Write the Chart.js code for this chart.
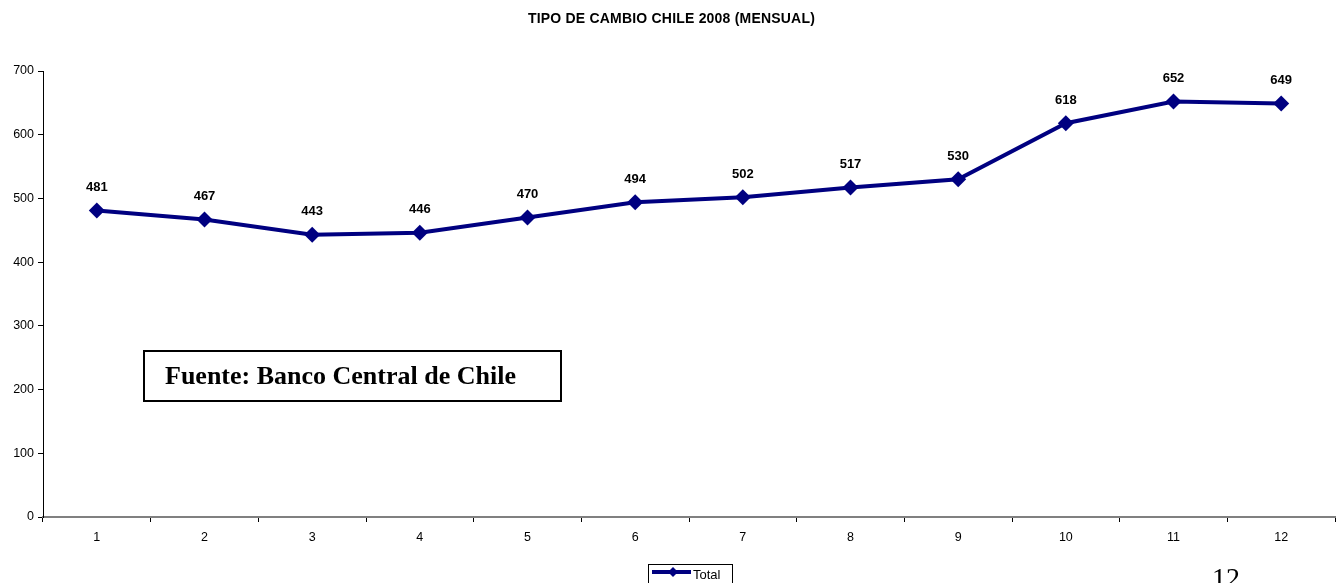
<!DOCTYPE html>
<html>
<head>
<meta charset="utf-8">
<script src="https://cdn.jsdelivr.net/npm/chart.js@4.4.1/dist/chart.umd.min.js"></script>
<style>
  html, body { margin: 0; padding: 0; background: #fff; overflow: hidden; }
  #wrap { position: relative; width: 1343px; height: 583px; }
  #title { position: absolute; left: 0; width: 1343px; top: 10px; text-align: center;
           font: bold 14px "Liberation Sans", Arial, sans-serif; color: #000; letter-spacing: 0.2px; }
  #fuente { position: absolute; left: 143px; top: 350px; width: 415px; height: 48px;
            border: 2px solid #000; box-sizing: content-box;
            font: bold 26px "Liberation Serif", "Times New Roman", serif; color: #000;
            line-height: 48px; white-space: nowrap; }
  #fuente span { margin-left: 20px; }
  #pagenum { position: absolute; left: 1212px; top: 562px;
             font: 28px "Liberation Serif", "Times New Roman", serif; color: #000; }
</style>
</head>
<body>
<div id="wrap">
  <canvas id="chart" width="1343" height="583"></canvas>
  <div id="title">TIPO DE CAMBIO CHILE 2008 (MENSUAL)</div>
  <div id="fuente"><span>Fuente: Banco Central de Chile</span></div>
  <div id="pagenum">12</div>
</div>
<script>
// ------------------------------------------------------------
// DATOS
// ------------------------------------------------------------
const months = ['1', '2', '3', '4', '5', '6', '7', '8', '9', '10', '11', '12'];
const totalValues = [481, 467, 443, 446, 470, 494, 502, 517, 530, 618, 652, 649];
const yTicks = [0, 100, 200, 300, 400, 500, 600, 700];
const seriesName = 'Total';

const navy = '#000080';

// etiquetas de valor sobre cada punto
const valueLabels = {
    id: 'valueLabels',
    afterDatasetsDraw(chart) {
        const ctx = chart.ctx;
        const meta = chart.getDatasetMeta(0);
        ctx.save();
        ctx.font = 'bold 13px "Liberation Sans", Arial, sans-serif';
        ctx.fillStyle = '#000';
        ctx.textAlign = 'center';
        ctx.textBaseline = 'middle';
        meta.data.forEach((pt, i) => {
            ctx.fillText(String(totalValues[i]), pt.x, pt.y - 23);
        });
        ctx.restore();
    }
};

// leyenda con recuadro, como en la hoja original
const boxedLegend = {
    id: 'boxedLegend',
    afterDraw(chart) {
        const ctx = chart.ctx;
        const x0 = 648, y0 = 564, w = 84, h = 19;
        ctx.save();
        ctx.strokeStyle = '#000';
        ctx.lineWidth = 1;
        ctx.strokeRect(x0 + 0.5, y0 + 0.5, w, h);
        ctx.strokeStyle = navy;
        ctx.lineWidth = 4;
        ctx.beginPath();
        ctx.moveTo(x0 + 4, y0 + 8);
        ctx.lineTo(x0 + 43, y0 + 8);
        ctx.stroke();
        ctx.fillStyle = navy;
        ctx.beginPath();
        const cx = x0 + 25, cy = y0 + 8;
        ctx.moveTo(cx, cy - 5); ctx.lineTo(cx + 5, cy); ctx.lineTo(cx, cy + 5); ctx.lineTo(cx - 5, cy);
        ctx.closePath();
        ctx.fill();
        ctx.fillStyle = '#000';
        ctx.font = '13px "Liberation Sans", Arial, sans-serif';
        ctx.textBaseline = 'middle';
        ctx.fillText(seriesName, x0 + 45, y0 + 11);
        ctx.restore();
    }
};

const tickFont = { family: '"Liberation Sans", Arial, sans-serif', size: 12.5 };

new Chart(document.getElementById('chart').getContext('2d'), {
    type: 'line',
    data: {
        labels: months,
        datasets: [{
            label: seriesName,
            data: totalValues,
            borderColor: navy,
            backgroundColor: navy,
            borderWidth: 4,
            tension: 0,
            pointStyle: 'rectRot',
            pointRadius: 8,
            pointHoverRadius: 8,
            pointBackgroundColor: navy,
            pointBorderColor: navy,
            pointBorderWidth: 0
        }]
    },
    options: {
        responsive: false,
        animation: false,
        events: [],
        layout: { padding: { top: 71, right: 6, left: 0, bottom: 0 } },
        plugins: {
            legend: { display: false },
            title: { display: false },
            tooltip: { enabled: false }
        },
        scales: {
            x: {
                offset: true,
                afterFit: s => { s.height = 66; },
                border: { color: '#808080', width: 2 },
                grid: { drawOnChartArea: false, tickLength: 5, color: '#000', offset: true },
                ticks: { color: '#000', font: tickFont, padding: 8, maxRotation: 0 }
            },
            y: {
                min: 0,
                max: 700,
                afterFit: s => { s.width = 43; },
                afterBuildTicks: s => { s.ticks = yTicks.map(v => ({ value: v })); },
                border: { color: '#000', width: 1 },
                grid: { drawOnChartArea: false, tickLength: 5, color: '#000' },
                ticks: { color: '#000', font: tickFont, padding: 4 }
            }
        }
    },
    plugins: [valueLabels, boxedLegend]
});
</script>
</body>
</html>
